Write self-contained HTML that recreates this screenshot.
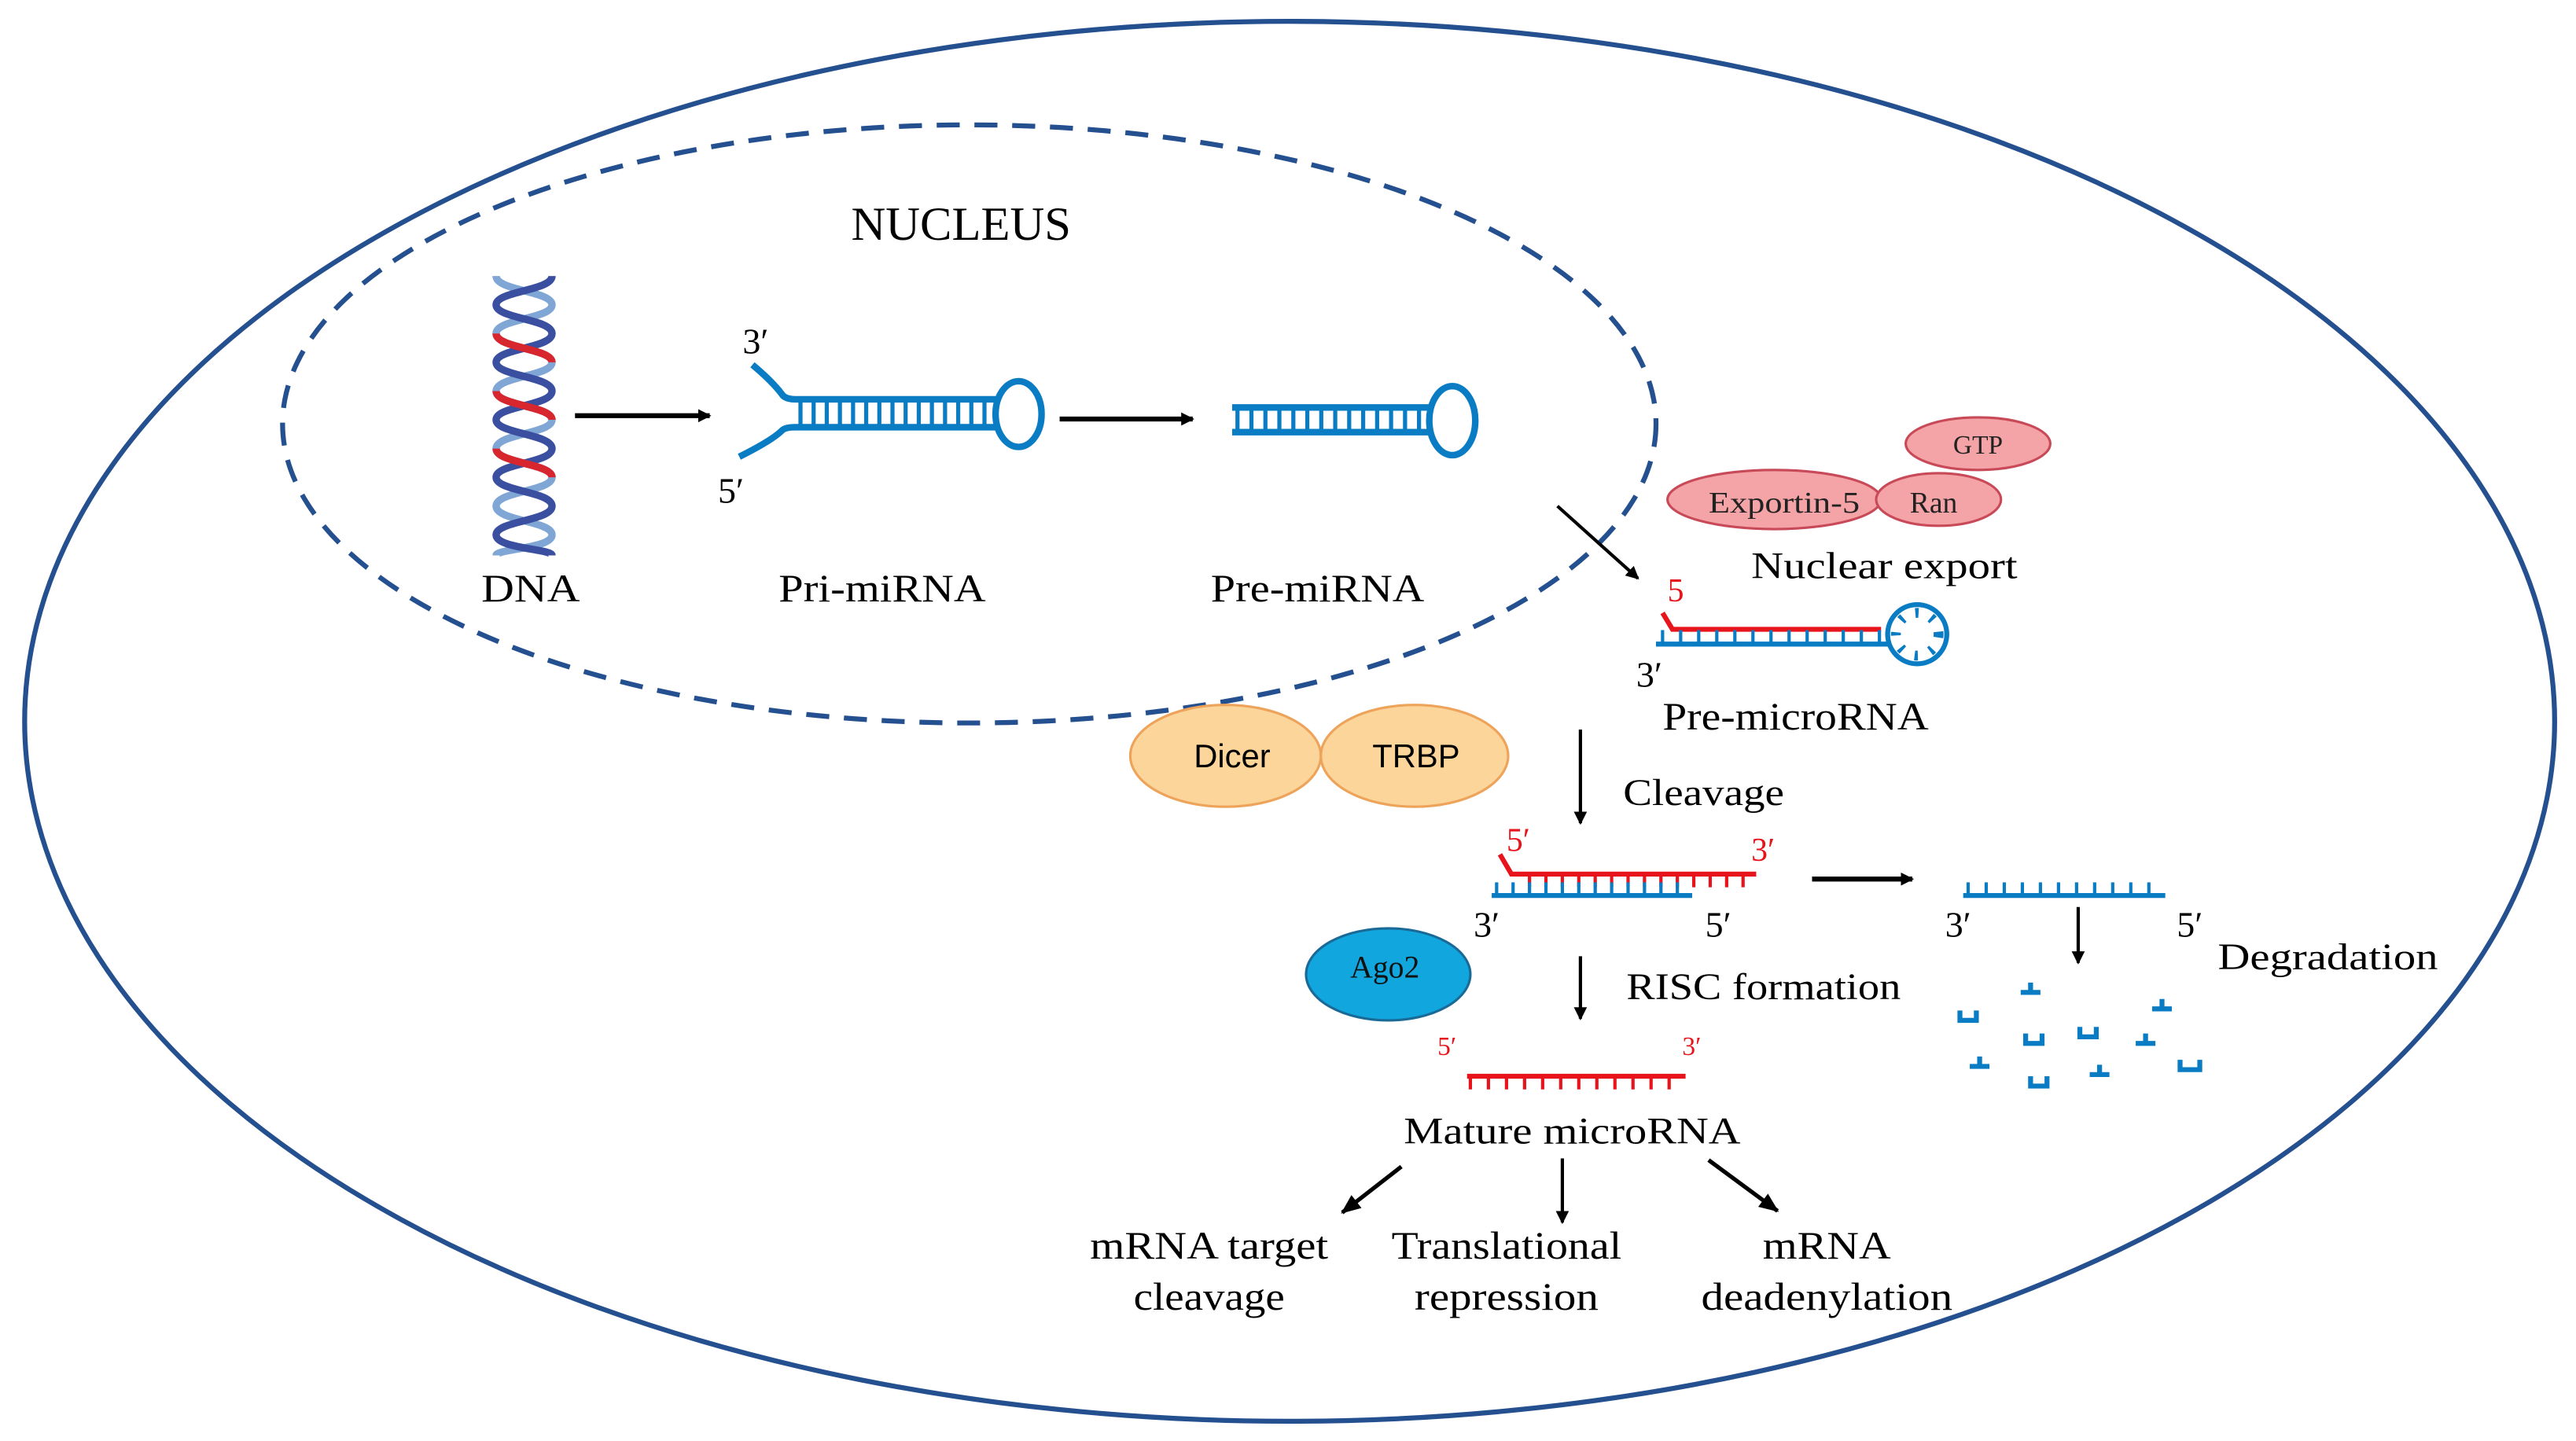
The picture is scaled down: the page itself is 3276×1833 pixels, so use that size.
<!DOCTYPE html>
<html><head><meta charset="utf-8"><style>html,body{margin:0;padding:0;background:#fff}svg{display:block}</style></head>
<body>
<svg width="3276" height="1833" viewBox="0 0 1568 877" preserveAspectRatio="none" xmlns="http://www.w3.org/2000/svg" font-family="Liberation Serif, serif">
<defs>
<marker id="a" markerWidth="8" markerHeight="8" refX="7" refY="4" orient="auto" markerUnits="userSpaceOnUse"><path d="M0,0 L8,4 L0,8 z" fill="#000"/></marker>
<marker id="b" markerWidth="12" markerHeight="10" refX="11" refY="5" orient="auto" markerUnits="userSpaceOnUse"><path d="M0,0 L12,5 L0,10 z" fill="#000"/></marker>
</defs>
<ellipse cx="785" cy="439" rx="770" ry="426" fill="none" stroke="#24508f" stroke-width="3"/>
<ellipse cx="590" cy="258" rx="418" ry="182" fill="none" stroke="#24508f" stroke-width="3" stroke-dasharray="14 9"/>
<text x="585" y="146" font-size="29" text-anchor="middle">NUCLEUS</text>
<!-- DNA -->
<g fill="none" stroke-width="4.5">
<path d="M302 168 C302 177 336 177 336 185.5 S302 194 302 203 S336 212 336 220.5 S302 229 302 238 S336 247 336 255.5 S302 264 302 273 S336 282 336 290.5 S302 299 302 308 S336 317 336 325.5 S302 334 302 338" stroke="#7fa6d4"/>
<path d="M336 168 C336 177 302 177 302 185.5 S336 194 336 203 S302 212 302 220.5 S336 229 336 238 S302 247 302 255.5 S336 264 336 273 S302 282 302 290.5 S336 299 336 308 S302 317 302 325.5 S336 334 336 338" stroke="#3a4fa0"/>
<path d="M302 203 C302 212 336 212 336 220.5 M302 238 C302 247 336 247 336 255.5 M302 273 C302 282 336 282 336 290.5" stroke="#d8262e"/>
</g>
<text x="323" y="366" font-size="24" text-anchor="middle" textLength="60" lengthAdjust="spacingAndGlyphs">DNA</text>
<line x1="350" y1="253" x2="432" y2="253" stroke="#000" stroke-width="3" marker-end="url(#a)"/>
<!-- Pri-miRNA -->
<g stroke="#0a7cc4" fill="none" stroke-width="4">
<path d="M458,222 Q470,232 476,240 Q478,243 484,243 L606,243"/>
<path d="M450,278 Q470,268 476,262 Q478,260 484,260 L606,260"/>
<line x1="486" y1="251.5" x2="604" y2="251.5" stroke-width="15" stroke-dasharray="2.5 5.5"/>
<ellipse cx="620" cy="252" rx="14" ry="20"/>
</g>
<text x="452" y="215" font-size="22">3′</text>
<text x="437" y="306" font-size="22">5′</text>
<text x="537" y="366" font-size="24" text-anchor="middle" textLength="126" lengthAdjust="spacingAndGlyphs">Pri-miRNA</text>
<line x1="645" y1="255" x2="726" y2="255" stroke="#000" stroke-width="3" marker-end="url(#a)"/>
<!-- Pre-miRNA -->
<g stroke="#0a7cc4" fill="none" stroke-width="4">
<line x1="750" y1="248" x2="870" y2="248"/><line x1="750" y1="263" x2="870" y2="263"/>
<line x1="752" y1="255.5" x2="868" y2="255.5" stroke-width="13" stroke-dasharray="2.5 6"/>
<ellipse cx="884" cy="256" rx="14" ry="21"/>
</g>
<text x="802" y="366" font-size="24" text-anchor="middle" textLength="130" lengthAdjust="spacingAndGlyphs">Pre-miRNA</text>
<line x1="948" y1="308" x2="997" y2="352" stroke="#000" stroke-width="2" marker-end="url(#a)"/>
<!-- export proteins -->
<g fill="#f4a3a6" stroke="#c84a58" stroke-width="1.5">
<ellipse cx="1204" cy="270" rx="44" ry="16"/>
<ellipse cx="1080" cy="304" rx="65" ry="18"/>
<ellipse cx="1180" cy="304" rx="38" ry="16"/>
</g>
<text x="1204" y="276" font-size="16" text-anchor="middle" fill="#222">GTP</text>
<text x="1086" y="312" font-size="18" text-anchor="middle" fill="#222" textLength="92" lengthAdjust="spacingAndGlyphs">Exportin-5</text>
<text x="1177" y="312" font-size="18" text-anchor="middle" fill="#222">Ran</text>
<text x="1147" y="352" font-size="23" text-anchor="middle" textLength="162" lengthAdjust="spacingAndGlyphs">Nuclear export</text>
<!-- Pre-microRNA -->
<text x="1015" y="366" font-size="20" fill="#e8141c">5</text>
<g fill="none" stroke-width="3">
<path d="M1012,373 L1018,383 L1145,383" stroke="#e8141c"/>
<line x1="1008" y1="392" x2="1150" y2="392" stroke="#0a7cc4"/>
<line x1="1011" y1="387.5" x2="1148" y2="387.5" stroke="#0a7cc4" stroke-width="8" stroke-dasharray="2 9"/>
<circle cx="1167" cy="386" r="18" stroke="#0a7cc4"/>
<circle cx="1167" cy="386" r="13" stroke="#0a7cc4" stroke-width="6" stroke-dasharray="2 8"/>
</g>
<text x="996" y="418" font-size="22">3′</text>
<text x="1093" y="444" font-size="24" text-anchor="middle" textLength="162" lengthAdjust="spacingAndGlyphs">Pre-microRNA</text>
<!-- Dicer TRBP -->
<g fill="#fcd59a" stroke="#eea35a" stroke-width="1.5">
<ellipse cx="746" cy="460" rx="58" ry="31"/>
<ellipse cx="861" cy="460" rx="57" ry="31"/>
</g>
<text x="750" y="467" font-size="20" text-anchor="middle" font-family="Liberation Sans, sans-serif">Dicer</text>
<text x="862" y="467" font-size="20" text-anchor="middle" font-family="Liberation Sans, sans-serif">TRBP</text>
<line x1="962" y1="444" x2="962" y2="501" stroke="#000" stroke-width="2" marker-end="url(#a)"/>
<text x="988" y="490" font-size="23" textLength="98" lengthAdjust="spacingAndGlyphs">Cleavage</text>
<!-- duplex -->
<text x="917" y="518" font-size="20" fill="#e8141c">5′</text>
<text x="1066" y="524" font-size="20" fill="#e8141c">3′</text>
<g fill="none" stroke-width="3">
<path d="M913,520 L920,532 L1069,532" stroke="#e8141c"/>
<line x1="930" y1="536" x2="1070" y2="536" stroke="#e8141c" stroke-width="8" stroke-dasharray="2 8"/>
<line x1="908" y1="545" x2="1030" y2="545" stroke="#0a7cc4"/>
<line x1="910" y1="541" x2="1030" y2="541" stroke="#0a7cc4" stroke-width="8" stroke-dasharray="2 8"/>
</g>
<text x="897" y="570" font-size="22">3′</text>
<text x="1038" y="570" font-size="22">5′</text>
<line x1="1103" y1="535" x2="1164" y2="535" stroke="#000" stroke-width="3" marker-end="url(#a)"/>
<g fill="none" stroke-width="3" stroke="#0a7cc4">
<line x1="1195" y1="545" x2="1318" y2="545"/>
<line x1="1197" y1="541" x2="1318" y2="541" stroke-width="8" stroke-dasharray="2 9"/>
</g>
<text x="1184" y="570" font-size="22">3′</text>
<text x="1325" y="570" font-size="22">5′</text>
<line x1="1265" y1="552" x2="1265" y2="586" stroke="#000" stroke-width="2" marker-end="url(#a)"/>
<text x="1350" y="590" font-size="23" textLength="134" lengthAdjust="spacingAndGlyphs">Degradation</text>
<g fill="none" stroke="#0a7cc4" stroke-width="3">
<path d="M1193,615 v6 h10 v-6"/><path d="M1230,604 h12 M1236,598 v6"/><path d="M1310,614 h12 M1316,608 v6"/>
<path d="M1233,629 v6 h10 v-6"/><path d="M1266,625 v6 h10 v-6"/><path d="M1300,635 h12 M1306,629 v6"/>
<path d="M1199,649 h12 M1205,643 v6"/><path d="M1272,654 h12 M1278,648 v6"/><path d="M1327,645 v6 h12 v-6"/>
<path d="M1236,655 v6 h10 v-6"/>
</g>
<!-- Ago2 -->
<ellipse cx="845" cy="593" rx="50" ry="28" fill="#12a6df" stroke="#1a6a98" stroke-width="1.5"/>
<text x="843" y="595" font-size="19" text-anchor="middle" fill="#111">Ago2</text>
<line x1="962" y1="582" x2="962" y2="620" stroke="#000" stroke-width="2" marker-end="url(#a)"/>
<text x="990" y="608" font-size="23" textLength="167" lengthAdjust="spacingAndGlyphs">RISC formation</text>
<!-- mature -->
<text x="875" y="642" font-size="16" fill="#e8141c">5′</text>
<text x="1024" y="642" font-size="16" fill="#e8141c">3′</text>
<line x1="893" y1="655" x2="1026" y2="655" stroke="#e8141c" stroke-width="3"/>
<line x1="894" y1="659" x2="1026" y2="659" stroke="#e8141c" stroke-width="8" stroke-dasharray="2 9"/>
<text x="957" y="696" font-size="23" text-anchor="middle" textLength="205" lengthAdjust="spacingAndGlyphs">Mature microRNA</text>
<line x1="853" y1="710" x2="817" y2="738" stroke="#000" stroke-width="2.5" marker-end="url(#b)"/>
<line x1="951" y1="705" x2="951" y2="744" stroke="#000" stroke-width="2" marker-end="url(#a)"/>
<line x1="1040" y1="706" x2="1082" y2="737" stroke="#000" stroke-width="2.5" marker-end="url(#b)"/>
<g font-size="24" text-anchor="middle" lengthAdjust="spacingAndGlyphs">
<text x="736" y="766" textLength="145" lengthAdjust="spacingAndGlyphs">mRNA target</text><text x="736" y="797" textLength="92" lengthAdjust="spacingAndGlyphs">cleavage</text>
<text x="917" y="766" textLength="140" lengthAdjust="spacingAndGlyphs">Translational</text><text x="917" y="797" textLength="112" lengthAdjust="spacingAndGlyphs">repression</text>
<text x="1112" y="766" textLength="78" lengthAdjust="spacingAndGlyphs">mRNA</text><text x="1112" y="797" textLength="153" lengthAdjust="spacingAndGlyphs">deadenylation</text>
</g>
</svg>
</body></html>
